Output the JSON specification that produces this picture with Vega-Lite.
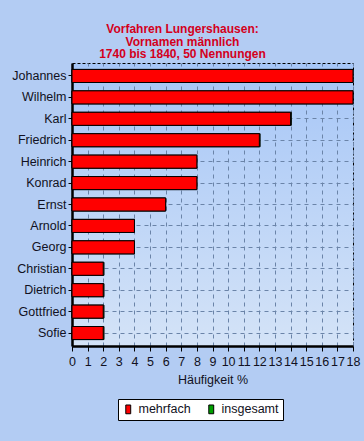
{
  "$schema": "https://vega.github.io/schema/vega-lite/v6.json",
  "width": 281,
  "height": 283,
  "autosize": {"type": "none"},
  "padding": {"left": 72, "top": 63, "right": 11, "bottom": 95},
  "background": "#b3ccf3",
  "title": {
    "text": ["Vorfahren Lungershausen:", "Vornamen männlich", "1740 bis 1840, 50 Nennungen"],
    "font": "Liberation Sans",
    "fontSize": 12,
    "fontWeight": "bold",
    "color": "#d4001c",
    "anchor": "middle",
    "dx": -30,
    "dy": 3,
    "offset": 5,
    "lineHeight": 12.5
  },
  "config": {
    "view": {
      "fill": {"gradient": "linear", "x1": 0, "y1": 0, "x2": 0, "y2": 1, "stops": [{"offset": 0, "color": "#a6c6f7"}, {"offset": 1, "color": "#d4e3f7"}]},
      "stroke": "#000000",
      "strokeDash": [3, 2],
      "strokeWidth": 1
    },
    "font": "Liberation Sans"
  },
  "data": {
    "values": [
      {"name": "Johannes", "serie": "insgesamt", "pct": 18},
      {"name": "Wilhelm", "serie": "insgesamt", "pct": 18},
      {"name": "Karl", "serie": "insgesamt", "pct": 14.05},
      {"name": "Friedrich", "serie": "insgesamt", "pct": 12.05},
      {"name": "Heinrich", "serie": "insgesamt", "pct": 8},
      {"name": "Konrad", "serie": "insgesamt", "pct": 8},
      {"name": "Ernst", "serie": "insgesamt", "pct": 6},
      {"name": "Arnold", "serie": "insgesamt", "pct": 4},
      {"name": "Georg", "serie": "insgesamt", "pct": 4},
      {"name": "Christian", "serie": "insgesamt", "pct": 2.05},
      {"name": "Dietrich", "serie": "insgesamt", "pct": 2.05},
      {"name": "Gottfried", "serie": "insgesamt", "pct": 2.05},
      {"name": "Sofie", "serie": "insgesamt", "pct": 2.05},
      {"name": "Johannes", "serie": "mehrfach", "pct": 18},
      {"name": "Wilhelm", "serie": "mehrfach", "pct": 18},
      {"name": "Karl", "serie": "mehrfach", "pct": 14},
      {"name": "Friedrich", "serie": "mehrfach", "pct": 12},
      {"name": "Heinrich", "serie": "mehrfach", "pct": 8},
      {"name": "Konrad", "serie": "mehrfach", "pct": 8},
      {"name": "Ernst", "serie": "mehrfach", "pct": 6},
      {"name": "Arnold", "serie": "mehrfach", "pct": 4},
      {"name": "Georg", "serie": "mehrfach", "pct": 4},
      {"name": "Christian", "serie": "mehrfach", "pct": 2},
      {"name": "Dietrich", "serie": "mehrfach", "pct": 2},
      {"name": "Gottfried", "serie": "mehrfach", "pct": 2},
      {"name": "Sofie", "serie": "mehrfach", "pct": 2}
    ]
  },
  "mark": {"type": "bar", "stroke": "#000000", "strokeWidth": 1, "opacity": 1},
  "encoding": {
    "y": {
      "field": "name",
      "type": "nominal",
      "sort": ["Johannes", "Wilhelm", "Karl", "Friedrich", "Heinrich", "Konrad", "Ernst", "Arnold", "Georg", "Christian", "Dietrich", "Gottfried", "Sofie"],
      "scale": {"paddingInner": 0.39, "paddingOuter": 0.3},
      "axis": {
        "title": null,
        "labelFontSize": 12.5,
        "labelColor": "#111122",
        "labelPadding": 2,
        "tickSize": 4,
        "tickColor": "#000000",
        "bandPosition": 0.5,
        "grid": true,
        "gridColor": "#6b84a8",
        "gridDash": [4, 4],
        "gridWidth": 1,
        "domainColor": "#000000",
        "domainWidth": 2.5
      }
    },
    "x": {
      "field": "pct",
      "type": "quantitative",
      "stack": null,
      "scale": {"domain": [0, 18], "nice": false},
      "axis": {
        "title": "Häufigkeit %",
        "titleFontSize": 12.5,
        "titleFontWeight": "normal",
        "titleColor": "#111122",
        "titlePadding": 6,
        "values": [0,1,2,3,4,5,6,7,8,9,10,11,12,13,14,15,16,17,18],
        "labelFontSize": 12.5,
        "labelColor": "#111122",
        "labelPadding": 4,
        "labelOverlap": false,
        "labelFlush": false,
        "tickSize": 5,
        "tickColor": "#000000",
        "grid": true,
        "gridColor": "#6b84a8",
        "gridDash": [4, 4],
        "gridWidth": 1,
        "domainColor": "#000000",
        "domainWidth": 2.5
      }
    },
    "color": {
      "field": "serie",
      "type": "nominal",
      "scale": {"domain": ["mehrfach", "insgesamt"], "range": ["#ff0000", "#00a000"]},
      "legend": {
        "title": null,
        "orient": "none",
        "legendX": 46,
        "legendY": 336,
        "direction": "horizontal",
        "columns": 2,
        "columnPadding": 14,
        "labelFontSize": 12.5,
        "labelColor": "#111122",
        "symbolType": "M-0.45,-0.8H0.45V0.8H-0.45Z",
        "symbolSize": 120,
        "symbolStrokeColor": "#000000",
        "symbolStrokeWidth": 1,
        "symbolOpacity": 1,
        "labelOffset": 4,
        "padding": 4,
        "fillColor": "#ffffff",
        "strokeColor": "#000000"
      }
    }
  }
}
